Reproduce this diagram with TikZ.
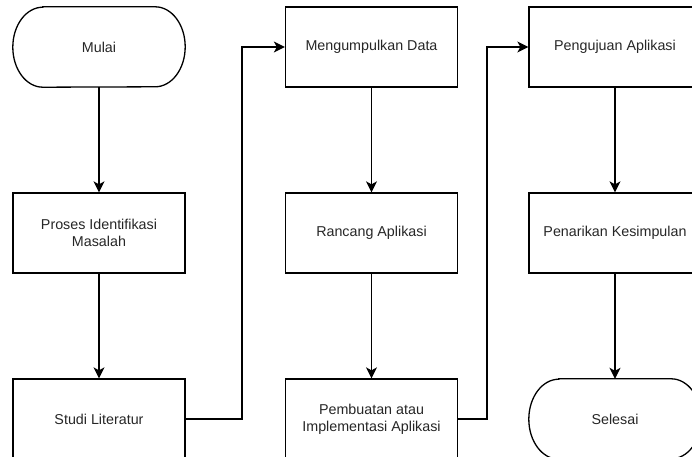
\documentclass[tikz,border=0pt]{standalone}
\usepackage{fontspec}
\setmainfont{Liberation Sans}
\usetikzlibrary{arrows.meta}
\tikzset{
  procbox/.style={draw=black, line width=1.3pt, minimum width=172pt, minimum height=80pt, inner sep=0pt, align=center, font=\fontsize{14.3pt}{16.8pt}\selectfont, text=black!85},
  termbox/.style={draw=none, minimum width=172pt, minimum height=80pt, inner sep=0pt, align=center, font=\fontsize{14.3pt}{16.8pt}\selectfont, text=black!85},
  outline/.style={line width=1.3pt, black},
  arr/.style={line width=1.3pt, black, -{Stealth[length=11pt,width=11pt,inset=3pt]}},
  link/.style={line width=1.3pt, black}
}
\begin{document}
\begin{tikzpicture}[x=1pt,y=1pt]
\useasboundingbox (0,0) rectangle (692,456);
\clip (0,0) rectangle (692,456);
% column 1
\node[termbox] (mulai) at (99,409) {Mulai};
\node[procbox] (proses) at (99,223) {Proses Identifikasi\\Masalah};
\node[procbox] (studi) at (99,37) {Studi Literatur};
% column 2
\node[procbox] (meng) at (371.5,409) {Mengumpulkan Data};
\node[procbox] (rancang) at (371.5,223) {Rancang Aplikasi};
\node[procbox] (buat) at (371.5,37) {Pembuatan atau\\Implementasi Aplikasi};
% column 3
\node[procbox] (uji) at (615,409) {Pengujuan Aplikasi};
\node[procbox] (tarik) at (615,223) {Penarikan Kesimpulan};
\node[termbox] (selesai) at (615,37) {Selesai};
% terminator outlines
\draw[outline] ([xshift=30pt]mulai.north west) -- ([xshift=-30pt]mulai.north east)
  arc[start angle=90, end angle=-90, x radius=30pt, y radius=40pt]
  -- ([xshift=30pt]mulai.south west)
  arc[start angle=270, end angle=90, x radius=30pt, y radius=40pt] -- cycle;
\draw[outline] ([xshift=30pt]selesai.north west) -- ([xshift=-30pt]selesai.north east)
  arc[start angle=90, end angle=-90, x radius=30pt, y radius=40pt]
  -- ([xshift=30pt]selesai.south west)
  arc[start angle=270, end angle=90, x radius=30pt, y radius=40pt] -- cycle;
% junction coordinates
\coordinate (j1) at (242,0);
\coordinate (j2) at (487,0);
% connectors
\draw[arr] (mulai.south) -- (proses.north);
\draw[arr] (proses.south) -- (studi.north);
\draw[arr] (studi.east) -- (studi.east -| j1) |- (meng.west);
\draw[arr] (meng.south) -- (rancang.north);
\draw[arr] (rancang.south) -- (buat.north);
\draw[arr] (buat.east) -- (buat.east -| j2) |- (uji.west);
\draw[arr] (uji.south) -- (tarik.north);
\draw[arr] (tarik.south) -- (selesai.north);
\end{tikzpicture}
\end{document}
